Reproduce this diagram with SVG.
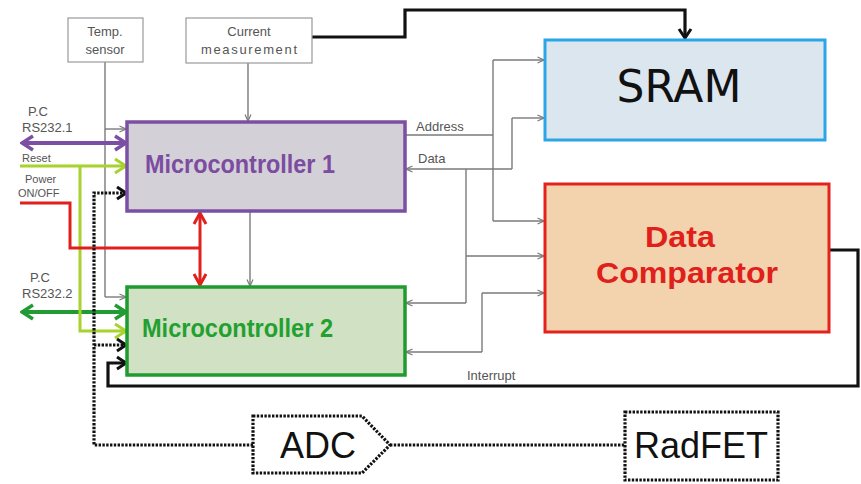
<svg xmlns="http://www.w3.org/2000/svg" width="861" height="484" viewBox="0 0 861 484">
<style>
  text { font-family: "Liberation Sans", Arial, sans-serif; }
  .lbl { font-size: 13px; fill: #555; }
  .sm { font-size: 11px; fill: #555; }
  .box { fill: #fff; stroke: #999; stroke-width: 1.2; }
  .g { fill: none; stroke: #7a7a7a; stroke-width: 1.4; }
  .gA { fill: none; stroke: #7a7a7a; stroke-width: 1.4; marker-end: url(#ag); }
  .blk { fill: none; stroke: #111; stroke-width: 3.2; stroke-linejoin: miter; }
  .dot { fill: none; stroke: #111; stroke-width: 3.2; stroke-dasharray: 2.4 1.4; }
  .big { font-size: 36px; fill: #111; text-anchor: middle; }
</style>
<defs>
  <marker id="ag" viewBox="0 0 8 8" refX="7.5" refY="4" markerWidth="8" markerHeight="8" markerUnits="userSpaceOnUse" orient="auto-start-reverse">
    <path d="M1,1 L7.5,4 L1,7" fill="none" stroke="#7a7a7a" stroke-width="1.2"/>
  </marker>
  <marker id="ak" viewBox="0 0 14 16" refX="12" refY="8" markerWidth="14" markerHeight="16" markerUnits="userSpaceOnUse" orient="auto-start-reverse">
    <path d="M3,2 L12,8 L3,14" fill="none" stroke="#111" stroke-width="3"/>
  </marker>
  <marker id="ap" viewBox="0 0 16 18" refX="14" refY="9" markerWidth="16" markerHeight="18" markerUnits="userSpaceOnUse" orient="auto-start-reverse">
    <path d="M3,2 L14,9 L3,16" fill="none" stroke="#7b4fa3" stroke-width="3.5"/>
  </marker>
  <marker id="agr" viewBox="0 0 16 18" refX="14" refY="9" markerWidth="16" markerHeight="18" markerUnits="userSpaceOnUse" orient="auto-start-reverse">
    <path d="M3,2 L14,9 L3,16" fill="none" stroke="#239b35" stroke-width="3.5"/>
  </marker>
  <marker id="ay" viewBox="0 0 16 18" refX="14" refY="9" markerWidth="16" markerHeight="18" markerUnits="userSpaceOnUse" orient="auto-start-reverse">
    <path d="M3,2 L14,9 L3,16" fill="none" stroke="#a8d22c" stroke-width="3"/>
  </marker>
  <marker id="ar" viewBox="0 0 16 16" refX="14" refY="8" markerWidth="16" markerHeight="16" markerUnits="userSpaceOnUse" orient="auto-start-reverse">
    <path d="M3,2 L14,8 L3,14" fill="none" stroke="#e0201c" stroke-width="3"/>
  </marker>
</defs>
<rect width="861" height="484" fill="#fff"/>

<g id="connectors">
  <polyline class="blk" points="312,37 405,37 405,10 685,10 685,38" marker-end="url(#ak)"/>
  <polyline class="g" points="105,62 105,297"/>
  <line class="gA" x1="105" y1="129" x2="126" y2="129"/>
  <line class="gA" x1="105" y1="297" x2="126" y2="297"/>
  <line class="gA" x1="248" y1="63" x2="248" y2="121"/>
  <line class="gA" x1="250" y1="212" x2="250" y2="286"/>
  <line class="g" x1="405" y1="135" x2="493" y2="135"/>
  <line class="g" x1="493" y1="60" x2="493" y2="221"/>
  <line class="gA" x1="493" y1="60" x2="544" y2="60"/>
  <line class="gA" x1="493" y1="221" x2="544" y2="221"/>
  <polyline class="g" points="512,118 512,169"/>
  <line class="gA" x1="512" y1="118" x2="544" y2="118"/>
  <line class="gA" x1="512" y1="169" x2="406" y2="169"/>
  <line class="g" x1="466" y1="169" x2="466" y2="303"/>
  <line class="gA" x1="466" y1="303" x2="406" y2="303"/>
  <line class="gA" x1="466" y1="256" x2="544" y2="256"/>
  <polyline class="g" points="482,293 482,352"/>
  <line class="gA" x1="482" y1="293" x2="544" y2="293"/>
  <line class="gA" x1="482" y1="352" x2="406" y2="352"/>
  <polyline class="blk" points="829,250 858,250 858,386 108,386 108,363 126,363" marker-end="url(#ak)"/>
  <line x1="22" y1="143" x2="126" y2="143" stroke="#7b4fa3" stroke-width="4" marker-start="url(#ap)" marker-end="url(#ap)"/>
  <line x1="22" y1="312" x2="126" y2="312" stroke="#239b35" stroke-width="4" marker-start="url(#agr)" marker-end="url(#agr)"/>
  <line x1="20" y1="166" x2="126" y2="166" stroke="#a8d22c" stroke-width="3" marker-end="url(#ay)"/>
  <polyline points="80,166 80,331 126,331" fill="none" stroke="#a8d22c" stroke-width="3" marker-end="url(#ay)"/>
  <polyline points="20,203 70,203 70,248 200,248" fill="none" stroke="#e0201c" stroke-width="3"/>
  <line x1="200" y1="213" x2="200" y2="285" stroke="#e0201c" stroke-width="3" marker-start="url(#ar)" marker-end="url(#ar)"/>
  <polyline class="dot" points="253,445 94,445 94,193 126,193" marker-end="url(#ak)"/>
  <line class="dot" x1="94" y1="345" x2="126" y2="345" marker-end="url(#ak)"/>
  <line class="dot" x1="390" y1="445" x2="625" y2="445"/>
</g>

<g id="temp-sensor">
  <rect class="box" x="68" y="18" width="75" height="44"/>
  <text class="lbl" x="105" y="36" text-anchor="middle">Temp.</text>
  <text class="lbl" x="105" y="54" text-anchor="middle">sensor</text>
</g>
<g id="current-measurement">
  <rect class="box" x="186" y="18" width="126" height="45"/>
  <text class="lbl" x="249" y="36" text-anchor="middle">Current</text>
  <text class="lbl" x="249" y="54" text-anchor="middle" textLength="96" lengthAdjust="spacing">measurement</text>
</g>
<g id="mc1">
  <rect x="127" y="122" width="278" height="89" fill="#d4d0d7" stroke="#7b4fa3" stroke-width="3.5"/>
  <text x="145" y="173" font-size="25" font-weight="bold" fill="#7b4ca0" textLength="190" lengthAdjust="spacingAndGlyphs">Microcontroller 1</text>
</g>
<g id="mc2">
  <rect x="127" y="287" width="278" height="88" fill="#d1e1c3" stroke="#1f9b30" stroke-width="3.5"/>
  <text x="142" y="337" font-size="25" font-weight="bold" fill="#22a030" textLength="191" lengthAdjust="spacingAndGlyphs">Microcontroller 2</text>
</g>
<g id="sram">
  <rect x="545" y="40" width="280" height="100" fill="#dce6ef" stroke="#2aa5e8" stroke-width="3"/>
  <text x="679" y="102" font-size="44" fill="#111" text-anchor="middle" style="font-family:'DejaVu Sans',sans-serif">SRAM</text>
</g>
<g id="data-comparator">
  <rect x="545" y="184" width="284" height="148" fill="#f3d3ae" stroke="#e3221e" stroke-width="3"/>
  <text x="680" y="247" font-size="30" font-weight="bold" fill="#e0201b" text-anchor="middle" textLength="70" lengthAdjust="spacingAndGlyphs">Data</text>
  <text x="687" y="283" font-size="30" font-weight="bold" fill="#e0201b" text-anchor="middle" textLength="182" lengthAdjust="spacingAndGlyphs">Comparator</text>
</g>
<g id="adc">
  <polygon class="dot" points="253,416 362,416 390,445 362,473 253,473"/>
  <text class="big" x="318" y="458">ADC</text>
</g>
<g id="radfet">
  <rect class="dot" x="625" y="412" width="153" height="68"/>
  <text class="big" x="701" y="458">RadFET</text>
</g>

<g id="labels">
  <text class="lbl" x="28" y="116">P.C</text>
  <text class="lbl" x="22" y="132">RS232.1</text>
  <text class="sm" x="22" y="162">Reset</text>
  <text class="sm" x="25" y="183">Power</text>
  <text class="sm" x="18" y="197">ON/OFF</text>
  <text class="lbl" x="30" y="282">P.C</text>
  <text class="lbl" x="22" y="298">RS232.2</text>
  <text class="lbl" x="416" y="131">Address</text>
  <text class="lbl" x="418" y="163">Data</text>
  <text class="lbl" x="467" y="380">Interrupt</text>
</g>
</svg>
